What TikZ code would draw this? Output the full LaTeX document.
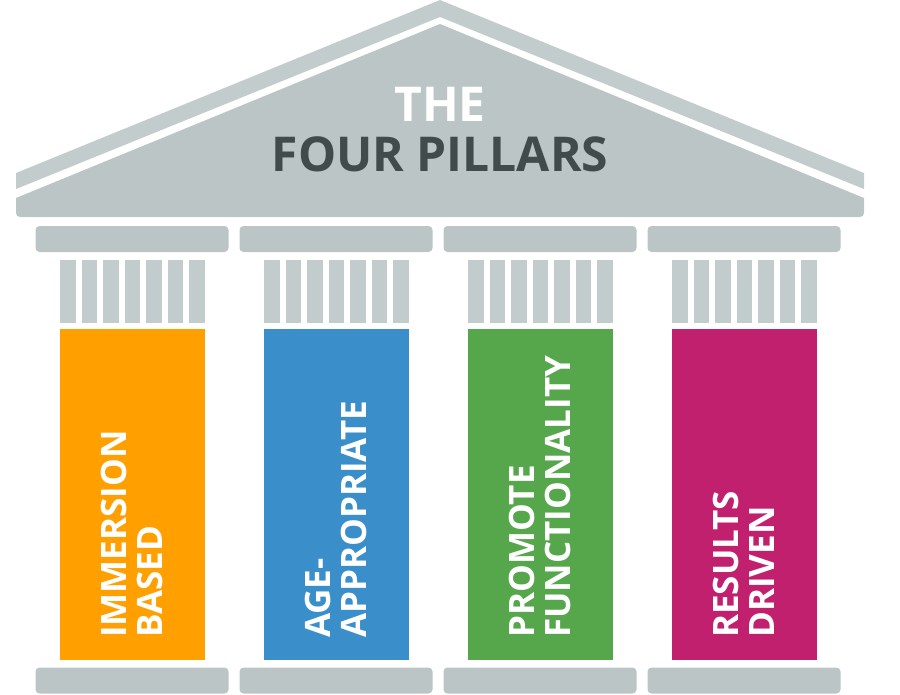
\documentclass[tikz,border=0pt]{standalone}
\usepackage{fontspec}
\setmainfont{Open Sans}
\definecolor{roofgray}{HTML}{BCC5C5}
\definecolor{bandgray}{HTML}{C3CCCC}
\definecolor{titledark}{HTML}{414B4B}
\definecolor{pillarorange}{HTML}{FFA000}
\definecolor{pillarblue}{HTML}{3A8FCA}
\definecolor{pillargreen}{HTML}{56A64B}
\definecolor{pillarmagenta}{HTML}{C1206F}
\begin{document}
\begin{tikzpicture}[x=1pt, y=-1pt,
  slab/.style={fill=roofgray, rounded corners=4pt, minimum width=193pt, minimum height=26pt, inner sep=0pt},
  shaft/.style={minimum width=145pt, minimum height=331pt, inner sep=0pt},
  pillartext/.style={text=white, font=\bfseries\fontsize{35}{36}\selectfont, rotate=90, anchor=west, align=left, inner sep=0pt},
  titletext/.style={font=\bfseries\fontsize{48}{50}\selectfont, anchor=base, inner sep=0pt}]
  \useasboundingbox (0,0) rectangle (900,694);
  % roof
  \fill[bandgray] (16,173) -- (440,0) -- (864,173) -- (864,189) -- (440,17) -- (16,189) -- cycle;
  \fill[roofgray] (16,198) -- (440,24) -- (864,198) [rounded corners=4pt] -- (864,217) -- (16,217) [sharp corners] -- cycle;
  \node[titletext, text=white] (the) at (440,121) {THE};
  \node[titletext, text=titledark] (fourpillars) at (440,171) {FOUR PILLARS};
  % capitals and bases
  \node[slab] (capA) at (132,239) {};
  \node[slab] (capB) at (336,239) {};
  \node[slab] (capC) at (540,239) {};
  \node[slab] (capD) at (744,239) {};
  \node[slab] (baseA) at (132,680.5) {};
  \node[slab] (baseB) at (336,680.5) {};
  \node[slab] (baseC) at (540,680.5) {};
  \node[slab] (baseD) at (744,680.5) {};
  % flutes
  \foreach \c in {60,264,468,672}
    \foreach \i in {0,...,6}
      \fill[bandgray] (\c+\i*21.55,260) rectangle ++(15.7,63);
  % pillars
  \node[shaft, fill=pillarorange] (shaftA) at (132.5,494.5) {};
  \node[shaft, fill=pillarblue] (shaftB) at (336.5,494.5) {};
  \node[shaft, fill=pillargreen] (shaftC) at (540.5,494.5) {};
  \node[shaft, fill=pillarmagenta] (shaftD) at (744.5,494.5) {};
  \node[pillartext] (immersion) at (132,638) {IMMERSION\\BASED};
  \node[pillartext] (ageappr) at (336,638) {AGE-\\APPROPRIATE};
  \node[pillartext] (promote) at (540,638) {PROMOTE\\FUNCTIONALITY};
  \node[pillartext] (results) at (744,638) {RESULTS\\DRIVEN};
\end{tikzpicture}
\end{document}
